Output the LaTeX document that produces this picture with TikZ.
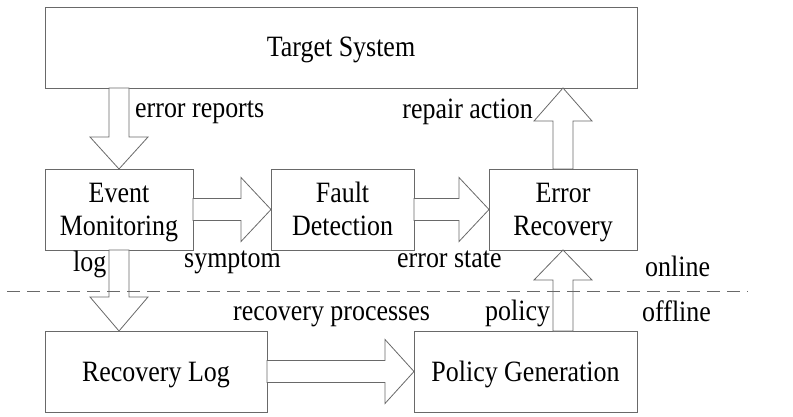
\documentclass[tikz,border=0pt]{standalone}
\usepackage{fontspec}
\setmainfont{Liberation Serif}[FakeStretch=0.88]
\usetikzlibrary{calc}
\definecolor{linegray}{RGB}{105,105,105}
\newcommand\vblock[3]{\draw[blk] let \p1=(#1),\p2=(#2) in (\x1-10pt,\y1) -- (\x1-10pt,\y2#3) -- (\x1-29pt,\y2#3) -- (\x1,\y2) -- (\x1+29pt,\y2#3) -- (\x1+10pt,\y2#3) -- (\x1+10pt,\y1) -- cycle;}
\newcommand\hblock[3]{\draw[blk] let \p1=(#1),\p2=(#2) in (\x1,\y1+11pt) -- (\x2#3,\y1+11pt) -- (\x2#3,\y1+32pt) -- (\x2,\y1) -- (\x2#3,\y1-32pt) -- (\x2#3,\y1-11pt) -- (\x1,\y1-11pt) -- cycle;}
\newcommand\twoline[2]{\begin{tabular}[b]{@{}c@{}}#1\\#2\end{tabular}}
\begin{document}
\begin{tikzpicture}[x=1pt,y=-1pt,
  box/.style={draw=linegray, line width=0.8pt, rectangle, inner sep=0pt, outer sep=0pt, minimum height=81pt, text height=22pt, text depth=3pt, font=\fontsize{29.5}{33}\selectfont},
  tbox/.style={box, text height=56pt},
  blk/.style={draw=linegray, line width=0.8pt, fill=white, line join=miter},
  lbl/.style={inner sep=0pt, font=\fontsize{29.5}{33}\selectfont},
  sep/.style={draw=linegray, line width=0.8pt, dash pattern=on 13pt off 7pt}]
\useasboundingbox (0,0) rectangle (793,417);
\node[box, minimum width=592pt] (ts) at (341,47.5) {Target System};
\node[tbox, minimum width=148pt] (em) at (119,209.5) {\twoline{Event}{Monitoring}};
\node[tbox, minimum width=143pt] (fd) at (342.5,209.5) {\twoline{Fault}{Detection}};
\node[tbox, minimum width=148pt] (er) at (563,209.5) {\twoline{Error}{Recovery}};
\node[box, minimum width=222pt] (rl) at (156,371.5) {Recovery Log};
\node[box, minimum width=223pt] (pg) at (525.5,371.5) {Policy Generation};
\vblock{ts.south -| em.north}{em.north}{+32pt}
\vblock{em.south}{em.south |- rl.north}{+34pt}
\hblock{em.east}{fd.west}{-30pt}
\hblock{fd.east}{er.west}{-30pt}
\hblock{rl.east}{pg.west}{-29pt}
\vblock{er.north}{er.north |- ts.south}{-33pt}
\vblock{er.south |- pg.north}{er.south}{-30pt}
\coordinate (dl) at (7,291);
\coordinate (dr) at (748,291);
\draw[sep] (dl) -- (dr);
\node[lbl, anchor=base west] (l1) at (135,118) {error reports};
\node[lbl, anchor=base east] (l2) at (533,119) {repair action};
\node[lbl, anchor=base west] (l3) at (73,271) {log};
\node[lbl, anchor=base west] (l4) at (184,267) {symptom};
\node[lbl, anchor=base west] (l5) at (397,267) {error state};
\node[lbl, anchor=base west] (l6) at (645,276) {online};
\node[lbl, anchor=base west] (l7) at (233,320) {recovery processes};
\node[lbl, anchor=base west] (l8) at (485,320) {policy};
\node[lbl, anchor=base west] (l9) at (642,321) {offline};
\end{tikzpicture}
\end{document}
